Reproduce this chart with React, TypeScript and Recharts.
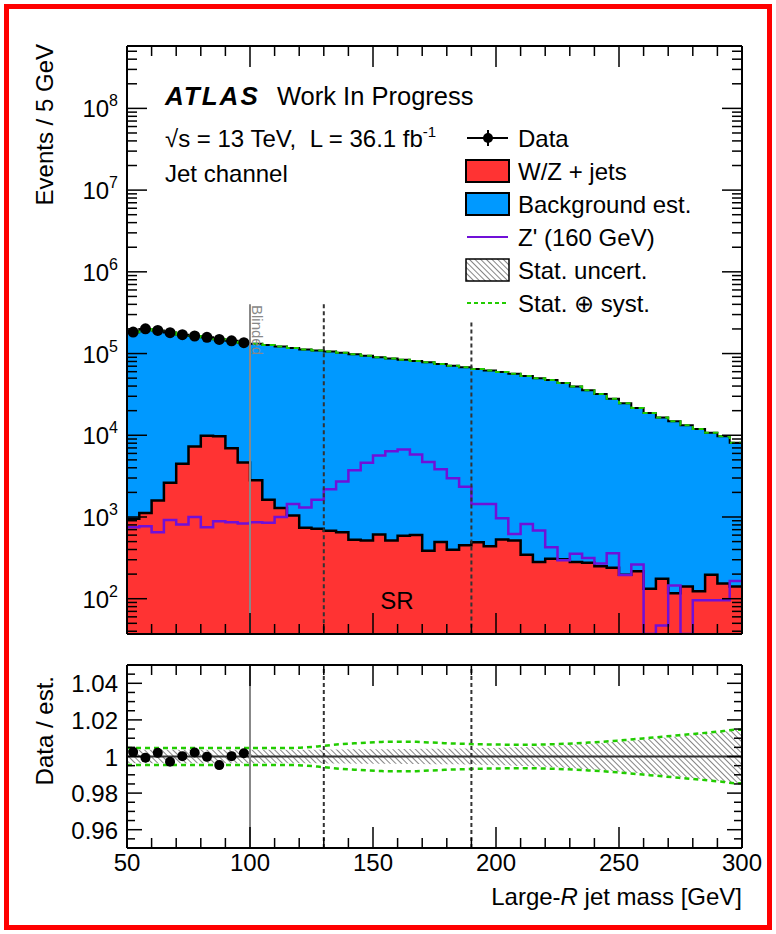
import React from "react";
import { ComposedChart, Area, Line, Scatter, XAxis, YAxis, ReferenceLine } from "recharts";

const FONT = "'Liberation Sans', Arial, Helvetica, sans-serif";

// lower edge of every 5 GeV bin
const massBins = [
  50, 55, 60, 65, 70, 75, 80, 85, 90, 95, 100, 105, 110, 115, 120, 125, 130, 135, 140, 145,
  150, 155, 160, 165, 170, 175, 180, 185, 190, 195, 200, 205, 210, 215, 220, 225, 230, 235, 240, 245,
  250, 255, 260, 265, 270, 275, 280, 285, 290, 295,
];

// W/Z + jets
const wzJets = [
  950, 1120, 1590, 2630, 4470, 7270, 9900, 9700, 6950, 4640,
  2810, 1630, 1290, 1040, 737, 717, 680, 650, 525, 515,
  610, 515, 590, 600, 385, 495, 397, 450, 492, 440,
  530, 515, 345, 281, 309, 303, 281, 275, 250, 240,
  197, 217, 132, 175, 117, 141, 123, 197, 154, 141,
];

// background estimate (total)
const bgEstimate = [
  182600, 200000, 191600, 180500, 170000, 163600, 158000, 149700, 143000, 135700,
  132000, 127000, 122000, 117000, 112000, 109000, 106000, 102000, 98000, 94000,
  90000, 87000, 84000, 81000, 78000, 74500, 71000, 68000, 64500, 62000,
  59500, 56500, 53000, 50000, 47500, 43500, 39500, 35500, 32000, 28000,
  24700, 21500, 18700, 16500, 14800, 13300, 11900, 10700, 9700, 8100,
];

// Z' (160 GeV) signal
const zPrime = [
  748, 770, 650, 920, 810, 1000, 748, 890, 860, 830,
  860, 850, 1000, 1440, 1310, 1620, 2180, 2710, 3720, 4610,
  5660, 6390, 6700, 5820, 4700, 3830, 2980, 2340, 1440, 1440,
  963, 621, 822, 682, 427, 295, 355, 316, 270, 360,
  195, 263, 0, 47, 145, 0, 96, 96, 96, 165,
];

// data, unblinded region only (50-100 GeV)
const dataEvents = [183000, 201000, 192000, 180000, 170000, 164000, 158000, 149000, 143000, 136000];
const dataRatio = [1.0024, 0.9993, 1.002, 0.9971, 1.0002, 1.0022, 0.9998, 0.9953, 1.0002, 1.0018];

// relative uncertainties (half width)
const statUnc = [
  0.0037, 0.0037, 0.0037, 0.0037, 0.0037, 0.0037, 0.0037, 0.0037, 0.0037, 0.0037,
  0.0037, 0.0037, 0.0037, 0.0037, 0.0037, 0.0037, 0.0038, 0.0038, 0.0039, 0.0039,
  0.004, 0.004, 0.0041, 0.0041, 0.0042, 0.0042, 0.0043, 0.0044, 0.0045, 0.0046,
  0.0048, 0.005, 0.0052, 0.0055, 0.0058, 0.0061, 0.0065, 0.0069, 0.0074, 0.0079,
  0.0085, 0.009, 0.0096, 0.0102, 0.0108, 0.0114, 0.0121, 0.0128, 0.0136, 0.0145,
];
const totalUnc = [
  0.0047, 0.0047, 0.0047, 0.0047, 0.0047, 0.0047, 0.0047, 0.0047, 0.0047, 0.0047,
  0.0047, 0.0047, 0.0047, 0.0047, 0.005, 0.0055, 0.0062, 0.0068, 0.0072, 0.0076,
  0.0079, 0.0081, 0.0081, 0.008, 0.0077, 0.0074, 0.0071, 0.0069, 0.0067, 0.0066,
  0.0065, 0.0064, 0.0064, 0.0065, 0.0067, 0.0069, 0.0072, 0.0076, 0.008, 0.0085,
  0.009, 0.0096, 0.0102, 0.0108, 0.0114, 0.012, 0.0126, 0.0132, 0.0139, 0.0146,
];

const massLabels = [50, 100, 150, 200, 250, 300];
const decades = [2, 3, 4, 5, 6, 7, 8];
const ratioLabels = ["0.96", "0.98", "1", "1.02", "1.04"];

const Y_MIN = 37;
const Y_MAX = 5.8e8;

const BLUE = "#0099ff";
const RED = "#ff3333";
const PURPLE = "#7010d8";
const GREEN = "#22cc00";

const histRows = [...massBins, 300].map((x, i) => {
  const j = Math.min(i, massBins.length - 1);
  return { x, bg: bgEstimate[j], wz: wzJets[j], zp: Math.max(zPrime[j], Y_MIN) };
});
const dataRows = dataEvents.map((y, i) => ({ x: massBins[i] + 2.5, y }));
const ratioPoints = dataRatio.map((y, i) => ({ x: massBins[i] + 2.5, y }));
const bandRows = [50, ...massBins.map((b) => b + 2.5), 300].map((x, k) => {
  const i = Math.min(Math.max(k - 1, 0), massBins.length - 1);
  return { x, stat: [1 - statUnc[i], 1 + statUnc[i]], hi: 1 + totalUnc[i], lo: 1 - totalUnc[i] };
});

const xTicks = Array.from({ length: 26 }, (_, i) => 50 + 10 * i);
const logTicks = [1, ...decades]
  .flatMap((d) => [1, 2, 3, 4, 5, 6, 7, 8, 9].map((m) => m * 10 ** d))
  .filter((v) => v >= Y_MIN && v <= Y_MAX);
const ratioTicks = Array.from({ length: 21 }, (_, i) => (950 + 5 * i) / 1000);
const ratioMajors = ratioLabels.map(Number);

const AXIS = { stroke: "#000", strokeWidth: 2 };

const XTick = ({ x, y, payload, side, labels }: any) => {
  const v = payload.value;
  const major = massLabels.includes(v);
  const len = major ? 21 : 10;
  const dir = side === "top" ? 1 : -1;
  return (
    <g>
      <line x1={x} x2={x} y1={y} y2={y + dir * len} stroke="#000" strokeWidth={1.5} />
      {labels && major && (
        <text x={x} y={y + 23} textAnchor="middle" fontFamily={FONT} fontSize={24} fill="#000">
          {v}
        </text>
      )}
    </g>
  );
};

const LogTick = ({ x, y, payload, side }: any) => {
  const v = payload.value;
  const e = Math.round(Math.log10(v));
  const major = Math.abs(v - 10 ** e) < 1e-6 * v;
  const len = major ? 20 : 10;
  const dir = side === "left" ? 1 : -1;
  return (
    <g>
      <line x1={x} x2={x + dir * len} y1={y} y2={y} stroke="#000" strokeWidth={1.5} />
      {side === "left" && major && (
        <text x={x - 9} y={y + 9} textAnchor="end" fontFamily={FONT} fontSize={24} fill="#000">
          10<tspan dy={-11} fontSize={16}>{e}</tspan>
        </text>
      )}
    </g>
  );
};

const RatioTick = ({ x, y, payload, side }: any) => {
  const v = payload.value;
  const idx = ratioMajors.findIndex((m) => Math.abs(m - v) < 1e-6);
  const len = idx >= 0 ? 15 : 8;
  const dir = side === "left" ? 1 : -1;
  return (
    <g>
      <line x1={x} x2={x + dir * len} y1={y} y2={y} stroke="#000" strokeWidth={1.5} />
      {side === "left" && idx >= 0 && (
        <text x={x - 9} y={y + 9} textAnchor="end" fontFamily={FONT} fontSize={24} fill="#000">
          {ratioLabels[idx]}
        </text>
      )}
    </g>
  );
};

const txt = { fontFamily: FONT, fill: "#000" };
const legendRows = [138, 171, 204, 237, 270, 303];

// axes are 1px thick (a 0 size axis is not drawn), margins take that into account
const axisCommon = {
  interval: 0 as const,
  allowDataOverflow: true,
  tickSize: 0,
  tickMargin: 0,
  tickLine: false,
  axisLine: AXIS,
};

export default function App() {
  return (
    <div style={{ position: "absolute", left: 0, top: 0, width: 776, height: 934, background: "#fff", overflow: "hidden" }}>
      <div
        style={{
          position: "absolute", left: 4, top: 4, width: 768, height: 926,
          border: "5px solid #ff0000", boxSizing: "border-box",
        }}
      />
      <div style={{ position: "absolute", left: 0, top: 0 }}>
        <ComposedChart width={776} height={650} data={histRows} margin={{ top: 45, right: 33, bottom: 15, left: 126 }}>
          <XAxis dataKey="x" type="number" domain={[50, 300]} ticks={xTicks} height={1} {...axisCommon}
            tick={(p: any) => <XTick {...p} side="bottom" />} />
          <XAxis xAxisId="top" orientation="top" dataKey="x" type="number" domain={[50, 300]} ticks={xTicks}
            height={1} {...axisCommon} tick={(p: any) => <XTick {...p} side="top" />} />
          <YAxis type="number" scale="log" domain={[Y_MIN, Y_MAX]} ticks={logTicks} width={1} {...axisCommon}
            tick={(p: any) => <LogTick {...p} side="left" />} />
          <YAxis yAxisId="right" orientation="right" type="number" scale="log" domain={[Y_MIN, Y_MAX]} ticks={logTicks}
            width={1} {...axisCommon} tick={(p: any) => <LogTick {...p} side="right" />} />
          <Area dataKey="bg" type="stepAfter" fill={BLUE} fillOpacity={1} stroke="#000" strokeWidth={2}
            baseValue="dataMin" isAnimationActive={false} />
          <Area dataKey="wz" type="stepAfter" fill={RED} fillOpacity={1} stroke="#000" strokeWidth={2.5}
            baseValue="dataMin" isAnimationActive={false} />
          <Line dataKey="zp" type="stepAfter" stroke={PURPLE} strokeWidth={2.5} dot={false} isAnimationActive={false} />
          <Line dataKey="bg" type="stepAfter" stroke={GREEN} strokeWidth={2} strokeDasharray="5 4" dot={false}
            isAnimationActive={false} />
          <ReferenceLine segment={[{ x: 100, y: 4e5 }, { x: 100, y: Y_MIN }]} stroke="#888" strokeWidth={2} />
          <ReferenceLine segment={[{ x: 130, y: 4e5 }, { x: 130, y: Y_MIN }]} stroke="#333" strokeWidth={2}
            strokeDasharray="4 3" />
          <ReferenceLine segment={[{ x: 190, y: 2.4e5 }, { x: 190, y: Y_MIN }]} stroke="#333" strokeWidth={2}
            strokeDasharray="4 3" />
          <Scatter data={dataRows} dataKey="y" isAnimationActive={false}
            shape={(p: any) => <circle cx={p.cx} cy={p.cy} r={5.5} fill="#000" />} />
        </ComposedChart>
      </div>
      <div style={{ position: "absolute", left: 0, top: 640 }}>
        <ComposedChart width={776} height={294} data={bandRows} margin={{ top: 24, right: 33, bottom: 85, left: 126 }}>
          <defs>
            <pattern id="statHatch" width={4} height={4} patternUnits="userSpaceOnUse" patternTransform="rotate(-45)">
              <line x1={0} y1={0} x2={0} y2={4} stroke="#444" strokeWidth={1.3} />
            </pattern>
          </defs>
          <XAxis dataKey="x" type="number" domain={[50, 300]} ticks={xTicks} height={1} {...axisCommon}
            tick={(p: any) => <XTick {...p} side="bottom" labels />} />
          <XAxis xAxisId="top" orientation="top" dataKey="x" type="number" domain={[50, 300]} ticks={xTicks}
            height={1} {...axisCommon} tick={(p: any) => <XTick {...p} side="top" />} />
          <YAxis type="number" domain={[0.95, 1.05]} ticks={ratioTicks} width={1} {...axisCommon}
            tick={(p: any) => <RatioTick {...p} side="left" />} />
          <YAxis yAxisId="right" orientation="right" type="number" domain={[0.95, 1.05]} ticks={ratioTicks}
            width={1} {...axisCommon} tick={(p: any) => <RatioTick {...p} side="right" />} />
          <Area dataKey="stat" type="monotone" fill="url(#statHatch)" fillOpacity={1} stroke="none"
            isAnimationActive={false} />
          <ReferenceLine y={1} stroke="#333" strokeWidth={2} />
          <Line dataKey="hi" type="monotone" stroke={GREEN} strokeWidth={2.5} strokeDasharray="5 4" dot={false}
            isAnimationActive={false} />
          <Line dataKey="lo" type="monotone" stroke={GREEN} strokeWidth={2.5} strokeDasharray="5 4" dot={false}
            isAnimationActive={false} />
          <ReferenceLine x={100} stroke="#888" strokeWidth={2} />
          <ReferenceLine x={130} stroke="#333" strokeWidth={2} strokeDasharray="4 3" />
          <ReferenceLine x={190} stroke="#333" strokeWidth={2} strokeDasharray="4 3" />
          <Scatter data={ratioPoints} dataKey="y" isAnimationActive={false}
            shape={(p: any) => <circle cx={p.cx} cy={p.cy} r={5} fill="#000" />} />
        </ComposedChart>
      </div>
      <svg width={776} height={934} style={{ position: "absolute", left: 0, top: 0, pointerEvents: "none" }}>
        <defs>
          <pattern id="legHatch" width={4} height={4} patternUnits="userSpaceOnUse" patternTransform="rotate(-45)">
            <line x1={0} y1={0} x2={0} y2={4} stroke="#333" strokeWidth={1.2} />
          </pattern>
        </defs>
        <text transform="translate(53,44) rotate(-90)" textAnchor="end" fontSize={24} {...txt}>Events / 5 GeV</text>
        <text transform="translate(53,676) rotate(-90)" textAnchor="end" fontSize={24} {...txt}>Data / est.</text>
        <text x={742} y={905} textAnchor="end" fontSize={24} {...txt}>
          Large-<tspan fontStyle="italic">R</tspan> jet mass [GeV]
        </text>
        <text x={165} y={105} fontSize={26} fontWeight="bold" fontStyle="italic" letterSpacing={2} {...txt}>ATLAS</text>
        <text x={277} y={105} fontSize={25.5} {...txt}>Work In Progress</text>
        <text x={165} y={147} fontSize={24} {...txt}>
          √s = 13 TeV,{"\u00a0\u00a0"}L = 36.1 fb<tspan dy={-10} fontSize={15}>-1</tspan>
        </text>
        <text x={165} y={182} fontSize={24} {...txt}>Jet channel</text>
        <text x={397} y={609} textAnchor="middle" fontSize={24} {...txt}>SR</text>
        <text transform="translate(252,305) rotate(90)" fontSize={15} fontFamily={FONT} fill="#888">Blinded</text>

        <line x1={467} x2={508} y1={legendRows[0]} y2={legendRows[0]} stroke="#000" strokeWidth={2} />
        <line x1={488} x2={488} y1={legendRows[0] - 8} y2={legendRows[0] + 8} stroke="#000" strokeWidth={2} />
        <circle cx={488} cy={legendRows[0]} r={5} fill="#000" />
        <rect x={466} y={legendRows[1] - 11} width={43} height={22} fill={RED} stroke="#000" strokeWidth={2} />
        <rect x={466} y={legendRows[2] - 11} width={43} height={22} fill={BLUE} stroke="#000" strokeWidth={2} />
        <line x1={467} x2={508} y1={legendRows[3]} y2={legendRows[3]} stroke={PURPLE} strokeWidth={2} />
        <rect x={466} y={legendRows[4] - 11} width={43} height={22} fill="url(#legHatch)" stroke="#000" strokeWidth={1.5} />
        <line x1={467} x2={508} y1={legendRows[5]} y2={legendRows[5]} stroke={GREEN} strokeWidth={2} strokeDasharray="4 3" />
        {["Data", "W/Z + jets", "Background est.", "Z' (160 GeV)", "Stat. uncert.", "Stat. ⊕ syst."].map((s, i) => (
          <text key={s} x={518} y={legendRows[i] + 9} fontSize={24} {...txt}>{s}</text>
        ))}
      </svg>
    </div>
  );
}
